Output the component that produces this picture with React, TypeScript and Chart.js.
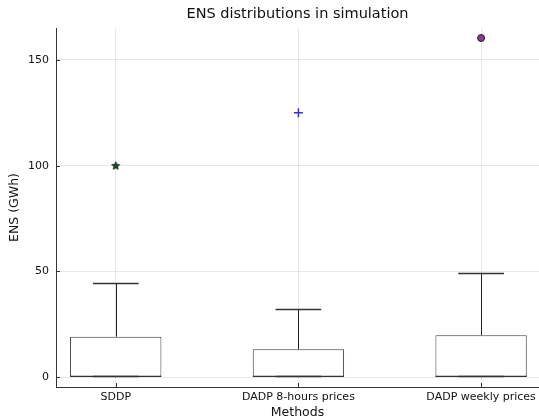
import React, { useEffect, useRef } from "react";
import { Chart, registerables } from "chart.js";

Chart.register(...registerables);

const categories = ["SDDP", "DADP 8-hours prices", "DADP weekly prices"];
const positions = [0.5, 1.5, 2.5];
const lowerWhisker = [0, 0, 0];
const q1 = [0, 0, 0];
const medians = [0, 0, 0];
const q3 = [19.1, 13.1, 19.8];
const upperWhisker = [44.3, 32.0, 49.4];
const outlierSDDP = [100];
const outlier8h = [125];
const outlierWeekly = [160.4];
const yTicks = [0, 50, 100, 150];

const FONT = "'DejaVu Sans', sans-serif";

function makeStar(): HTMLCanvasElement {
  const c = document.createElement("canvas");
  c.width = 11;
  c.height = 11;
  const g = c.getContext("2d")!;
  const cx = 5.5, cy = 5.8, R = 4.2, r = 1.8;
  g.beginPath();
  for (let k = 0; k < 10; k++) {
    const a = -Math.PI / 2 + (k * Math.PI) / 5;
    const rad = k % 2 === 0 ? R : r;
    const px = cx + rad * Math.cos(a);
    const py = cy + rad * Math.sin(a);
    if (k === 0) g.moveTo(px, py);
    else g.lineTo(px, py);
  }
  g.closePath();
  g.fillStyle = "#0b5a14";
  g.fill();
  g.strokeStyle = "#000";
  g.lineWidth = 0.8;
  g.stroke();
  return c;
}

const whiskerPlugin = {
  id: "whiskers",
  afterDatasetsDraw(chart: any) {
    const { ctx, scales } = chart;
    const x = scales.x;
    const y = scales.y;
    ctx.save();
    positions.forEach((p, i) => {
      const cx = Math.round(x.getPixelForValue(p)) + 0.5;
      const capL = x.getPixelForValue(p - 0.125);
      const capR = x.getPixelForValue(p + 0.125);
      const boxL = x.getPixelForValue(p - 0.25);
      const boxR = x.getPixelForValue(p + 0.25);
      const yQ3 = y.getPixelForValue(q3[i]);
      const yQ1 = y.getPixelForValue(q1[i]);
      const yUp = Math.round(y.getPixelForValue(upperWhisker[i])) + 0.5;
      const yLo = Math.round(y.getPixelForValue(lowerWhisker[i])) - 0.5;
      const yMed = Math.round(y.getPixelForValue(medians[i])) - 0.5;
      ctx.strokeStyle = "#222";
      ctx.lineWidth = 1;
      ctx.beginPath();
      ctx.moveTo(cx, yQ3);
      ctx.lineTo(cx, yUp);
      ctx.moveTo(cx, yQ1);
      ctx.lineTo(cx, yLo);
      ctx.stroke();
      ctx.lineWidth = 1.6;
      ctx.strokeStyle = "#333";
      ctx.beginPath();
      ctx.moveTo(capL, yUp);
      ctx.lineTo(capR, yUp);
      ctx.moveTo(capL, yLo);
      ctx.lineTo(capR, yLo);
      ctx.stroke();
      ctx.lineWidth = 1;
      ctx.strokeStyle = "#333";
      ctx.beginPath();
      ctx.moveTo(boxL, yMed);
      ctx.lineTo(boxR, yMed);
      ctx.stroke();
    });
    ctx.restore();
  },
  afterDraw(chart: any) {
    const { ctx, scales, chartArea } = chart;
    const x = scales.x;
    const y = scales.y;
    ctx.save();
    ctx.strokeStyle = "#333";
    ctx.lineWidth = 1;
    ctx.beginPath();
    yTicks.forEach((v) => {
      const py = Math.round(y.getPixelForValue(v)) + 0.5;
      ctx.moveTo(chartArea.left, py);
      ctx.lineTo(chartArea.left + 4, py);
    });
    positions.forEach((p) => {
      const px = Math.round(x.getPixelForValue(p)) + 0.5;
      ctx.moveTo(px, chartArea.bottom);
      ctx.lineTo(px, chartArea.bottom - 4);
    });
    ctx.stroke();
    ctx.restore();
  },
};

export default function App() {
  const ref = useRef<HTMLCanvasElement | null>(null);
  useEffect(() => {
    if (!ref.current) return;
    Chart.defaults.font.family = FONT;
    const star = makeStar();
    const chart = new Chart(ref.current, {
      type: "bar",
      data: {
        datasets: [
          {
            type: "bar",
            data: positions.map((p, i) => ({ x: p, y: [q1[i], q3[i]] })) as any,
            backgroundColor: "#ffffff",
            borderColor: "#3a3a3a",
            borderWidth: 1,
            borderSkipped: false,
            barPercentage: 0.5,
            categoryPercentage: 1,
          } as any,
          {
            type: "scatter",
            data: outlierSDDP.map((v) => ({ x: positions[0], y: v })),
            pointStyle: star as any,
            pointRadius: 5,
          } as any,
          {
            type: "scatter",
            data: outlier8h.map((v) => ({ x: positions[1], y: v })),
            pointStyle: "cross",
            pointRadius: 4.5,
            borderColor: "#3434c4",
            borderWidth: 1.5,
          } as any,
          {
            type: "scatter",
            data: outlierWeekly.map((v) => ({ x: positions[2], y: v })),
            pointStyle: "circle",
            pointRadius: 3.5,
            backgroundColor: "#8a3c92",
            borderColor: "#222",
            borderWidth: 1,
          } as any,
        ],
      },
      options: {
        responsive: false,
        animation: false,
        layout: { padding: 0, autoPadding: false },
        plugins: {
          legend: { display: false },
          tooltip: { enabled: false },
          title: {
            display: true,
            fullSize: false,
            text: "ENS distributions in simulation",
            color: "#111",
            font: { family: FONT, size: 14.5, weight: "normal" },
            padding: { top: 6, bottom: 4.6 },
          },
        },
        scales: {
          x: {
            type: "linear",
            min: 0.173,
            max: 2.817,
            offset: false,
            afterBuildTicks: (s: any) => {
              s.ticks = positions.map((v) => ({ value: v }));
            },
            afterFit: (s: any) => {
              s.height = 33;
              s.paddingLeft = 0;
              s.paddingRight = 0;
            },
            ticks: {
              callback: (v: any) => categories[positions.indexOf(Number(v))] ?? "",
              color: "#111",
              font: { family: FONT, size: 11 },
              padding: 4,
              maxRotation: 0,
              autoSkip: false,
            },
            grid: {
              offset: false,
              color: "rgba(0,0,0,0.09)",
              drawTicks: false,
            },
            border: { display: true, color: "#333", width: 1 },
            title: {
              display: true,
              text: "Methods",
              color: "#111",
              font: { family: FONT, size: 12.5 },
              padding: { top: 0, bottom: 0 },
            },
          },
          y: {
            type: "linear",
            min: -4.73,
            max: 165.14,
            afterBuildTicks: (s: any) => {
              s.ticks = yTicks.map((v) => ({ value: v }));
            },
            afterFit: (s: any) => {
              s.width = 56;
              s.paddingTop = 0;
              s.paddingBottom = 0;
            },
            ticks: {
              color: "#111",
              font: { family: FONT, size: 11 },
              padding: 7,
            },
            grid: {
              color: "rgba(0,0,0,0.09)",
              drawTicks: false,
            },
            border: { display: true, color: "#333", width: 1 },
            title: {
              display: true,
              text: "ENS (GWh)",
              color: "#111",
              font: { family: FONT, size: 12.5 },
              padding: { top: 7, bottom: 0 },
            },
          },
        },
      } as any,
      plugins: [whiskerPlugin],
    });
    return () => chart.destroy();
  }, []);
  return (
    <div style={{ position: "absolute", left: 0, top: 0, width: 539, height: 420, background: "#fff" }}>
      <canvas ref={ref} width={539} height={420} style={{ display: "block" }} />
    </div>
  );
}
